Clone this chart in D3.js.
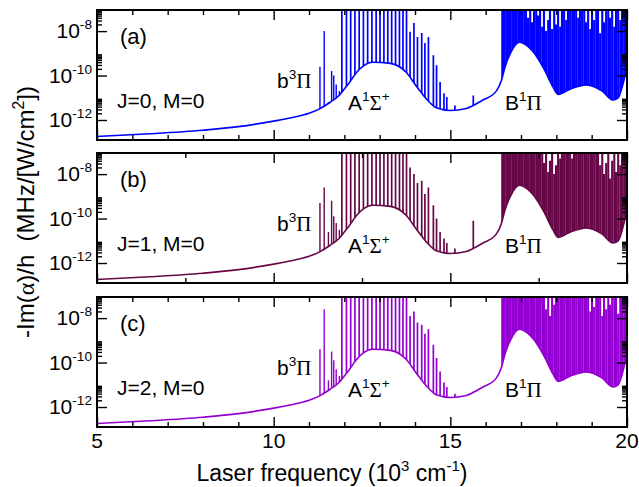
<!DOCTYPE html>
<html>
<head>
<meta charset="utf-8">
<script src="https://cdn.jsdelivr.net/npm/d3@7"></script>
<style>
  body { margin: 0; background: #fff; }
  svg text { font-family: "Liberation Sans", Arial, Helvetica, sans-serif; fill: #000; white-space: pre; }
  .greek { font-family: "Liberation Serif", "DejaVu Serif", serif; }
  .tick line { stroke: #000; stroke-width: 1.4; }
</style>
</head>
<body>
<script>
// lower envelope of the spectrum (x in 10^3 cm^-1, log10 of -Im(alpha)/h)
var baseX   = [5.0, 6.5, 8.0, 9.0, 10.0, 10.5, 11.0, 11.3, 11.6, 11.85, 12.0, 12.15, 12.35, 12.55, 12.8, 13.3,
               13.75, 14.05, 14.35, 14.6, 15.0, 15.45, 15.9, 16.3, 16.45, 16.55, 16.7, 16.95, 17.3, 17.65,
               17.9, 18.05, 18.4, 18.85, 19.3, 19.6, 19.75, 19.9, 20.0];
var baseLog = [-12.74, -12.62, -12.46, -12.3, -12.05, -11.9, -11.7, -11.5, -11.2, -10.9, -10.6, -10.3, -9.85, -9.55, -9.4, -9.45,
               -9.85, -10.5, -11.1, -11.45, -11.57, -11.48, -11.12, -10.7, -10.2, -9.6, -9.0, -8.5, -8.85, -9.7,
               -10.5, -10.85, -10.6, -10.42, -10.7, -11.1, -11.0, -10.3, -9.6];

// b3Pi lines
var tripX = [11.31, 11.43, 11.55, 11.64, 11.70, 11.77, 11.86];
var tripA = [-9.6, -8.0, -11.2, -9.8, -10.0, -10.4, -10.7];
var tripB = [-9.3, -8.6, -10.6, -9.2, -9.9, -10.2, -10.5];
var tripC = [-9.4, -7.6, -10.8, -9.5, -9.9, -10.3, -10.6];

// A1Sigma+ lines
var sigX = [11.93, 12.06, 12.18, 12.30, 12.42, 12.54, 12.66, 12.78, 12.90, 13.01, 13.12, 13.23, 13.34, 13.45, 13.56,
            13.66, 13.76, 13.86, 13.97, 14.07, 14.19, 14.28, 14.38, 14.52, 14.61, 14.71, 14.82, 14.90, 15.13, 15.65];
var sigA = [-6, -6, -6, -6, -6, -6, -6, -6, -6, -6, -6, -6, -6, -6, -6,
            -6, -6, -8.03, -7.64, -8.26, -8.09, -8.54, -8.26, -9.09, -9.54, -10.29, -10.8, -10.97, -11.35, -10.9];
var sigB = [-6, -6, -6, -6, -6, -6, -6, -6, -6, -6, -6, -6, -6, -6, -6,
            -6, -6, -7.7, -8.0, -8.4, -8.3, -8.9, -8.6, -9.4, -10.0, -10.6, -10.9, -11.1, -11.35, -10.1];
var sigC = [-6, -6, -6, -6, -6, -6, -6, -6, -6, -6, -6, -6, -6, -6, -6,
            -6, -6, -7.9, -7.7, -8.2, -8.3, -8.7, -8.5, -9.2, -9.8, -10.4, -10.9, -11.1, -11.4, -11.3];

// B1Pi lines
var piX = [16.47, 16.52, 16.58, 16.63, 16.69, 16.75, 16.80, 16.86, 16.92, 16.97, 17.03, 17.09, 17.14, 17.20, 17.26, 17.31,
           17.37, 17.43, 17.48, 17.54, 17.60, 17.65, 17.71, 17.77, 17.82, 17.88, 17.94, 17.99, 18.05, 18.11, 18.16, 18.22,
           18.28, 18.33, 18.39, 18.45, 18.50, 18.56, 18.62, 18.67, 18.73, 18.79, 18.84, 18.90, 18.96, 19.01, 19.07, 19.13,
           19.18, 19.24, 19.30, 19.35, 19.41, 19.47, 19.52, 19.58, 19.64, 19.69, 19.75, 19.81, 19.86, 19.92, 19.97];
var piA = [-6, -6, -6, -6, -6, -6, -6, -6, -6, -6, -6, -6, -6, -7.4, -6, -7.6,
           -6, -6, -7.3, -6, -7.8, -6, -8.0, -7.5, -6, -7.9, -6, -7.7, -6, -7.8, -6, -6,
           -7.5, -6, -6, -6, -6, -6, -7.4, -6, -6, -6, -7.6, -6, -7.9, -6, -7.5, -6,
           -6, -8.1, -6, -7.6, -6, -6, -7.4, -6, -7.8, -6, -6, -7.5, -6, -6, -6];
var piB = [-6, -6, -6, -6, -6, -6, -6, -6, -6, -6, -6, -6, -6, -6, -6, -6,
           -6, -6, -6, -6, -6, -7.5, -6, -7.9, -7.4, -6, -8.0, -7.6, -6, -7.3, -6, -6,
           -6, -6, -6, -7.3, -6, -6, -6, -6, -6, -6, -6, -6, -6, -6, -6, -6,
           -6, -7.6, -6, -8.0, -7.5, -6, -8.2, -7.4, -6, -7.9, -6, -7.6, -6, -6, -6];
var piC = [-6, -6, -6, -6, -6, -6, -6, -6, -6, -6, -6, -6, -6, -6, -6, -6,
           -6, -6, -6, -6, -6, -6, -7.6, -6, -7.9, -6, -7.4, -6, -6, -6, -6, -6,
           -6, -6, -6, -6, -6, -6, -6, -6, -6, -6, -6, -6, -7.7, -6, -7.5, -6,
           -6, -6, -7.9, -6, -7.6, -6, -7.4, -6, -6, -6, -7.8, -6, -6, -6, -6];

// ticks
var xMajor = [5, 10, 15, 20];
var xMinorFine = [6, 7, 8, 9, 11, 12, 13, 14, 16, 17, 18, 19];
var xMinorCoarse = [7.5, 12.5, 17.5];
var yMajorExp = [-8, -10, -12];

var panels = [
  {tag: "(a)", state: "J=0, M=0", color: "#0000ff", top: 10,  trip: tripA, sig: sigA, pi: piA, minor: xMinorFine},
  {tag: "(b)", state: "J=1, M=0", color: "#670748", top: 153, trip: tripB, sig: sigB, pi: piB, minor: xMinorCoarse},
  {tag: "(c)", state: "J=2, M=0", color: "#9400d3", top: 297, trip: tripC, sig: sigC, pi: piC, minor: xMinorFine}
];

var left = 97, plotW = 530, plotH = 130;

var svg = d3.select("body").append("svg")
  .attr("width", 639).attr("height", 487);
var defs = svg.append("defs");

var x = d3.scaleLinear().domain([5, 20]).range([0, plotW]);
var y = d3.scaleLog().domain([Math.pow(10, -12.9), Math.pow(10, -7.05)]).range([plotH, 0]);

// text with superscripts: parts = [{t, sup, g}]
function rich(sel, parts, size) {
  var shift = 0;
  parts.forEach(function(p) {
    var target = p.sup ? -0.42 * size : 0;
    var t = sel.append("tspan").text(p.t).attr("dy", target - shift);
    shift = target;
    if (p.sup) t.style("font-size", (size * 0.65) + "px");
    if (p.g) t.attr("class", "greek");
  });
  return sel;
}

var base = baseX.map((d, i) => [d, Math.pow(10, baseLog[i])]);

// y minor ticks: 2..9 in the decades right above the labelled ones
var yMinor = y.ticks().filter(function(v) {
  var e = Math.floor(Math.log10(v) + 1e-9);
  var m = Math.round(v / Math.pow(10, e));
  return m > 1 && yMajorExp.indexOf(e) >= 0;
});
var yMajor = yMajorExp.map(e => Math.pow(10, e));

panels.forEach(function(p, i) {
  var g = svg.append("g").attr("transform", "translate(" + left + "," + p.top + ")");

  defs.append("clipPath").attr("id", "plot" + i)
    .append("rect").attr("width", plotW).attr("height", plotH);

  var above = d3.area()
    .x(d => x(d[0]))
    .y0(-10)
    .y1(d => y(d[1]))
    .curve(d3.curveMonotoneX);
  defs.append("clipPath").attr("id", "above" + i)
    .append("path").attr("d", above(base));

  var plot = g.append("g").attr("clip-path", "url(#plot" + i + ")");

  // spectral lines
  var lines = [];
  tripX.forEach((d, k) => lines.push({x: d, v: Math.pow(10, p.trip[k]), w: 1.4}));
  sigX.forEach((d, k) => lines.push({x: d, v: Math.pow(10, p.sig[k]), w: 1.7}));
  piX.forEach((d, k) => lines.push({x: d, v: Math.pow(10, p.pi[k]), w: 2.1}));

  plot.append("g")
    .attr("clip-path", "url(#above" + i + ")")
    .selectAll("line")
    .data(lines)
    .enter().append("line")
    .attr("x1", d => x(d.x)).attr("x2", d => x(d.x))
    .attr("y1", d => y(d.v)).attr("y2", plotH)
    .attr("stroke", p.color)
    .attr("stroke-width", d => d.w);

  plot.append("path")
    .datum(base)
    .attr("d", d3.line().x(d => x(d[0])).y(d => y(d[1])).curve(d3.curveMonotoneX))
    .attr("fill", "none")
    .attr("stroke", p.color)
    .attr("stroke-width", 1.6);

  // ticks, all pointing inwards
  function ax(gen, vals, size, tr) {
    var a = g.append("g").attr("transform", tr || null)
      .call(gen.tickValues(vals).tickSize(-size).tickSizeOuter(0).tickFormat(""));
    a.select(".domain").remove();
  }
  ax(d3.axisBottom(x), xMajor, 10, "translate(0," + plotH + ")");
  ax(d3.axisBottom(x), p.minor, 5, "translate(0," + plotH + ")");
  ax(d3.axisTop(x), xMajor, 10);
  ax(d3.axisTop(x), p.minor, 5);
  ax(d3.axisLeft(y), yMajor, 10);
  ax(d3.axisLeft(y), yMinor, 5);
  ax(d3.axisRight(y), yMajor, 10, "translate(" + plotW + ",0)");
  ax(d3.axisRight(y), yMinor, 5, "translate(" + plotW + ",0)");

  g.append("rect")
    .attr("width", plotW).attr("height", plotH)
    .attr("fill", "none").attr("stroke", "#000").attr("stroke-width", 2);

  // y tick labels
  yMajorExp.forEach(function(e) {
    var t = g.append("text")
      .attr("x", -5).attr("y", y(Math.pow(10, e)) + 7)
      .attr("text-anchor", "end").style("font-size", "21px");
    rich(t, [{t: "10"}, {t: String(e), sup: true}], 21);
  });

  // panel annotations
  g.append("text").attr("x", 23).attr("y", 34).style("font-size", "22px").text(p.tag);
  g.append("text").attr("x", 20).attr("y", 98).style("font-size", "21px").text(p.state);
  rich(g.append("text").attr("x", 180).attr("y", 78).style("font-size", "21px"),
       [{t: "b"}, {t: "3", sup: true}, {t: "\u03a0", g: true}], 21);
  rich(g.append("text").attr("x", 251).attr("y", 100).style("font-size", "21px"),
       [{t: "A"}, {t: "1", sup: true}, {t: "\u03a3", g: true}, {t: "+", sup: true}], 21);
  rich(g.append("text").attr("x", 408).attr("y", 100).style("font-size", "21px"),
       [{t: "B"}, {t: "1", sup: true}, {t: "\u03a0", g: true}], 21);

  if (i === panels.length - 1) {
    xMajor.forEach(function(v) {
      g.append("text")
        .attr("x", x(v)).attr("y", plotH + 21)
        .attr("text-anchor", "middle").style("font-size", "21px")
        .text(v);
    });
  }
});

// axis titles
rich(svg.append("text")
  .attr("x", 332).attr("y", 481)
  .attr("text-anchor", "middle").style("font-size", "23px"),
  [{t: "Laser frequency (10"}, {t: "3", sup: true}, {t: " cm"}, {t: "-1", sup: true}, {t: ")"}], 23);

rich(svg.append("text")
  .attr("transform", "translate(34,212) rotate(-90)")
  .attr("text-anchor", "middle").style("font-size", "24px"),
  [{t: "-Im("}, {t: "\u03b1", g: true}, {t: ")/h  (MHz/[W/cm"}, {t: "2", sup: true}, {t: "])"}], 24);
</script>
</body>
</html>
